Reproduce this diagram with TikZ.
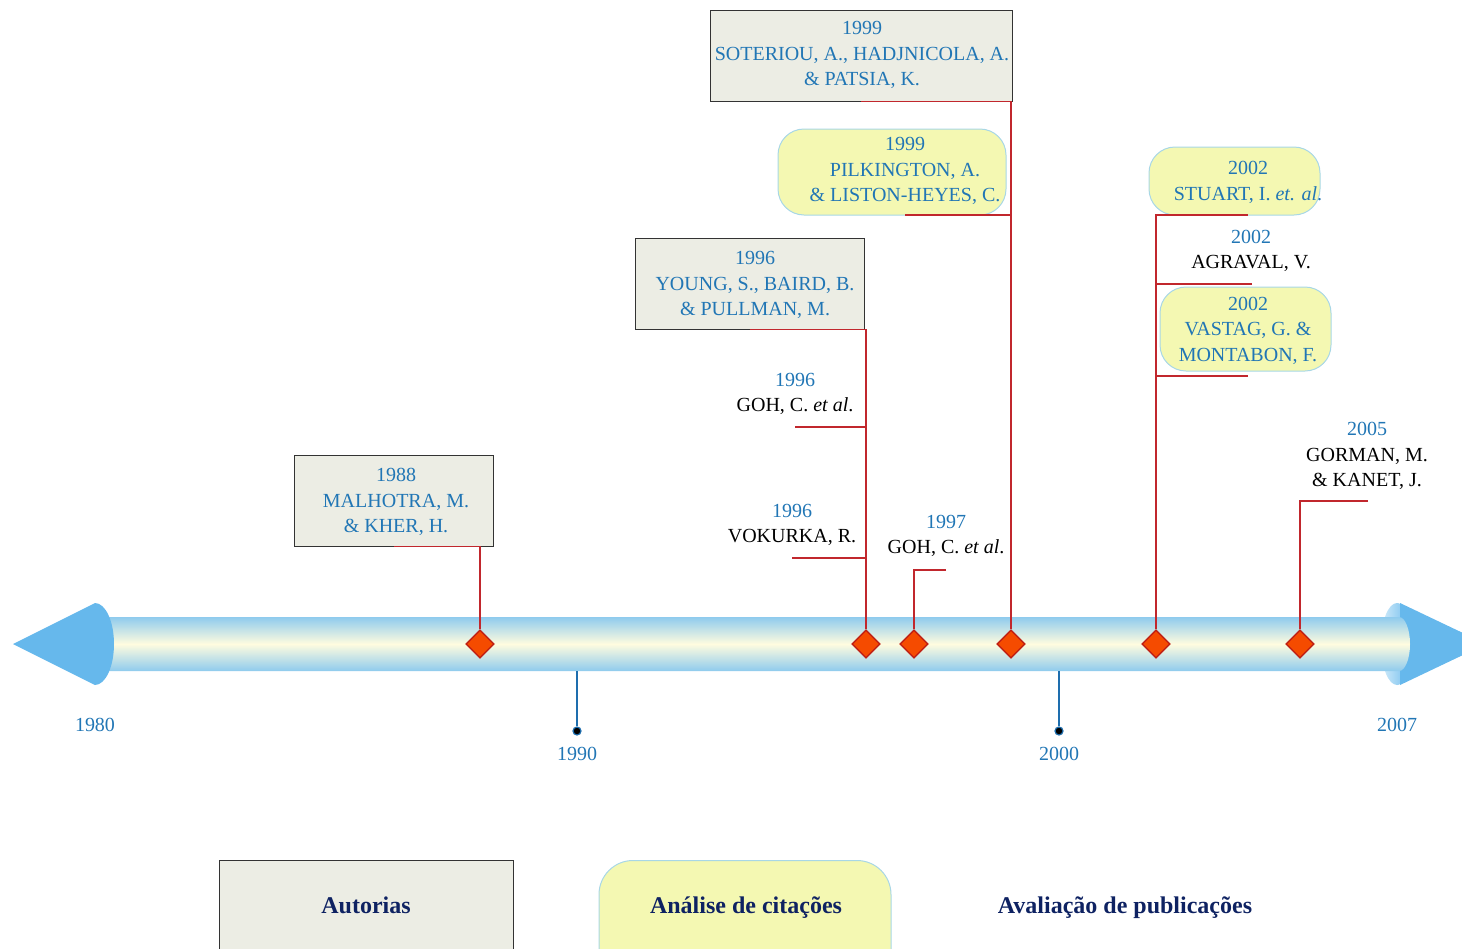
\documentclass[tikz,border=0pt]{standalone}
\usepackage{fontspec}
\setmainfont{Liberation Serif}
\usetikzlibrary{shapes.geometric}
\definecolor{txtblue}{HTML}{2176B5}
\definecolor{navy}{HTML}{0E2262}
\definecolor{greybox}{HTML}{ECEDE4}
\definecolor{yellowbox}{HTML}{F4F8B2}
\definecolor{yellowedge}{HTML}{A8D7E6}
\definecolor{linkred}{HTML}{C1272D}
\definecolor{markfill}{HTML}{F54B00}
\definecolor{markedge}{HTML}{BE1E14}
\definecolor{barblue}{HTML}{8FCBEE}
\definecolor{barcream}{HTML}{FFFCDF}
\definecolor{headblue}{HTML}{66B8EC}
\definecolor{headlight}{HTML}{D3ECFA}
\definecolor{tickblue}{HTML}{1E6EAE}
\begin{document}
\begin{tikzpicture}[x=0.5pt,y=-0.5pt,
  authbox/.style={draw=black!80, line width=0.5pt, fill=greybox, inner sep=0pt},
  citebox/.style={draw=yellowedge, line width=0.5pt, fill=yellowbox, inner sep=0pt},
  lbl/.style={align=center, font=\fontsize{10}{12.8}\selectfont, text=txtblue, inner sep=0pt},
  marker/.style={diamond, draw=markedge, fill=markfill, line width=0.6pt,
                 minimum width=14pt, minimum height=14pt, inner sep=0pt},
  link/.style={draw=linkred, line width=0.75pt},
  tick/.style={draw=tickblue, line width=1.2pt},
  tickdot/.style={circle, fill=black, draw=tickblue, line width=0.6pt, minimum size=4pt, inner sep=0pt},
  yearlbl/.style={font=\fontsize{10}{12}\selectfont, text=txtblue, inner sep=0pt},
  legend/.style={font=\fontsize{12}{14}\selectfont\bfseries, text=navy, inner sep=0pt, anchor=base}
]
\clip (0,0) rectangle (1462,948);

% ---- timeline arrow ----
% right head: cone and its lit base
\fill[headblue] (1397,603) -- (1486,644) -- (1397,685) -- cycle;
\shade[left color=headlight, right color=headblue]
  (1397,644) ellipse [x radius=16, y radius=41];
\fill[headblue] (1400,603) -- (1486,644) -- (1400,685) -- cycle;
% shaft
\shade[top color=barblue, bottom color=barblue, middle color=barcream]
  (100,617) -- (1399,617) arc[start angle=-90, end angle=90, x radius=11, y radius=27]
  -- (100,671) -- cycle;
% left head
\fill[headblue] (13,644) -- (95,603) arc[start angle=-90, end angle=90, x radius=19, y radius=41] -- cycle;

% ---- axis ticks ----
\node[tickdot] (p90) at (577,731) {};
\node[tickdot] (p00) at (1059,731) {};
\coordinate (s90) at (577,671);
\coordinate (s00) at (1059,671);
\draw[tick] (s90) -- (p90);
\draw[tick] (s00) -- (p00);
\node[yearlbl] (y80) at (95,725) {1980};
\node[yearlbl] (y90) at (577,754) {1990};
\node[yearlbl] (y00) at (1059,754) {2000};
\node[yearlbl] (y07) at (1397,725) {2007};

% ---- boxes ----
\node[authbox, minimum width=151pt, minimum height=45.5pt] (b99a) at (861,55.5) {};
\node[citebox, rounded corners=13pt, minimum width=114pt, minimum height=43pt] (b99b) at (892,172) {};
\node[authbox, minimum width=114.5pt, minimum height=45.5pt] (b96) at (749.5,283.5) {};
\node[authbox, minimum width=99.5pt, minimum height=45.5pt] (b88) at (393.5,500.5) {};
\node[citebox, rounded corners=13pt, minimum width=85.5pt, minimum height=34pt] (b02a) at (1234.5,181) {};
\node[citebox, rounded corners=13pt, minimum width=85.5pt, minimum height=42pt] (b02c) at (1245.5,329) {};

% ---- markers on the timeline ----
\node[marker] (d88) at (480,644) {};
\node[marker] (d96) at (866,644) {};
\node[marker] (d97) at (914,644) {};
\node[marker] (d99) at (1011,644) {};
\node[marker] (d02) at (1156,644) {};
\node[marker] (d05) at (1300,644) {};

% ---- leader lines ----
\coordinate (pk99) at (905,215);
\coordinate (st02) at (1248,215);
\coordinate (g96) at (795,427);
\coordinate (v96) at (792,558);
\coordinate (g97) at (946,570);
\coordinate (a02) at (1252,284);
\coordinate (m02) at (1248,376);
\coordinate (g05) at (1368,501);
\draw[link] (b88.south) -| (d88.north);
\draw[link] (b96.south) -| (d96.north);
\draw[link] (g96) -- (g96 -| d96.north);
\draw[link] (v96) -- (v96 -| d96.north);
\draw[link] (g97) -| (d97.north);
\draw[link] (b99a.south) -| (d99.north);
\draw[link] (pk99) -- (pk99 -| d99.north);
\draw[link] (st02) -| (d02.north);
\draw[link] (a02) -- (a02 -| d02.north);
\draw[link] (m02) -- (m02 -| d02.north);
\draw[link] (g05) -| (d05.north);
% redraw markers over the lines
\node[marker] at (d88) {};
\node[marker] at (d96) {};
\node[marker] at (d97) {};
\node[marker] at (d99) {};
\node[marker] at (d02) {};
\node[marker] at (d05) {};

% ---- entries ----
\node[lbl] (t99a) at (862,55) {1999\\SOTERIOU, A., HADJNICOLA, A.\\\& PATSIA, K.};
\node[lbl] (t99b) at (905,171) {1999\\PILKINGTON, A.\\\& LISTON-HEYES, C.};
\node[lbl] (t96a) at (755,285) {1996\\YOUNG, S., BAIRD, B.\\\& PULLMAN, M.};
\node[lbl] (t96b) at (795,394) {1996\\{\color{black}GOH, C. \textit{et al}.}};
\node[lbl] (t96c) at (792,525) {1996\\{\color{black}VOKURKA, R.}};
\node[lbl] (t97) at (946,536) {1997\\{\color{black}GOH, C. \textit{et al}.}};
\node[lbl] (t88) at (396,502) {1988\\MALHOTRA, M.\\\& KHER, H.};
\node[lbl] (t02a) at (1248,182.5) {2002\\STUART, I. \textit{et. al}.};
\node[lbl] (t02b) at (1251,251) {2002\\{\color{black}AGRAVAL, V.}};
\node[lbl] (t02c) at (1248,330.5) {2002\\VASTAG, G. \&\\MONTABON, F.};
\node[lbl] (t05) at (1367,456) {2005\\{\color{black}GORMAN, M.}\\{\color{black}\& KANET, J.}};

% ---- legend ----
\node[authbox, minimum width=147pt, minimum height=70pt, anchor=north] (k1) at (366,860) {};
\node[citebox, rounded corners=17pt, minimum width=146pt, minimum height=70pt, anchor=north] (k2) at (745,860) {};
\node[legend] (l1) at (366,913) {Autorias};
\node[legend] (l2) at (746,913) {Análise de citações};
\node[legend] (l3) at (1125,913) {Avaliação de publicações};
\end{tikzpicture}
\end{document}
